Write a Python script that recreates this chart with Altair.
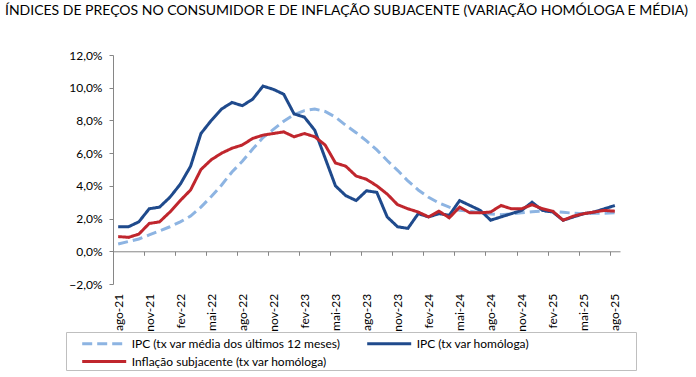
import altair as alt
import pandas as pd

meses = [
    "ago-21", "set-21", "out-21", "nov-21", "dez-21",
    "jan-22", "fev-22", "mar-22", "abr-22", "mai-22", "jun-22", "jul-22",
    "ago-22", "set-22", "out-22", "nov-22", "dez-22",
    "jan-23", "fev-23", "mar-23", "abr-23", "mai-23", "jun-23", "jul-23",
    "ago-23", "set-23", "out-23", "nov-23", "dez-23",
    "jan-24", "fev-24", "mar-24", "abr-24", "mai-24", "jun-24", "jul-24",
    "ago-24", "set-24", "out-24", "nov-24", "dez-24",
    "jan-25", "fev-25", "mar-25", "abr-25", "mai-25", "jun-25", "jul-25",
    "ago-25",
]

ipc_media_12m = [
    0.45, 0.6, 0.75, 1.0, 1.25,
    1.5, 1.8, 2.15, 2.7, 3.35, 4.05, 4.85,
    5.5, 6.25, 6.95, 7.45, 7.95,
    8.35, 8.6, 8.7, 8.55, 8.2, 7.7, 7.25,
    6.75, 6.2, 5.55, 4.95, 4.3,
    3.75, 3.3, 2.95, 2.7, 2.5, 2.45, 2.35,
    2.28, 2.24, 2.28, 2.35, 2.42,
    2.45, 2.43, 2.38, 2.33, 2.3, 2.33, 2.33,
    2.35,
]

ipc_homologa = [
    1.5, 1.5, 1.8, 2.6, 2.7,
    3.3, 4.1, 5.2, 7.2, 8.0, 8.7, 9.1,
    8.9, 9.3, 10.1, 9.9, 9.6,
    8.4, 8.2, 7.4, 5.7, 4.0, 3.4, 3.1,
    3.7, 3.6, 2.1, 1.5, 1.4,
    2.3, 2.1, 2.3, 2.2, 3.1, 2.8, 2.5,
    1.9, 2.1, 2.3, 2.5, 3.0,
    2.5, 2.4, 1.9, 2.1, 2.3, 2.4, 2.6,
    2.8,
]

subjacente = [
    0.9, 0.85, 1.05, 1.7, 1.8,
    2.4, 3.1, 3.75, 5.0, 5.6, 6.0, 6.3,
    6.5, 6.9, 7.1, 7.2, 7.3,
    7.0, 7.2, 7.0, 6.5, 5.4, 5.2, 4.6,
    4.4, 4.0, 3.5, 2.85, 2.6,
    2.4, 2.1, 2.45, 2.05, 2.7, 2.35, 2.35,
    2.4, 2.8, 2.6, 2.6, 2.85,
    2.6, 2.45, 1.9, 2.15, 2.3, 2.4, 2.5,
    2.45,
]

series = [
    "IPC (tx var média dos últimos 12 meses)",
    "IPC (tx var homóloga)",
    "Inflação subjacente (tx var homóloga)",
]
cores = ["#8DB4E2", "#1F4A8C", "#C0262D"]
tracos = [[10, 5], [1, 0], [1, 0]]

titulo = "ÍNDICES DE PREÇOS NO CONSUMIDOR E DE INFLAÇÃO SUBJACENTE (VARIAÇÃO HOMÓLOGA E MÉDIA)"

rows = []
for nome, valores in zip(series, [ipc_media_12m, ipc_homologa, subjacente]):
    for m, v in zip(meses, valores):
        rows.append({"mes": m, "valor": v, "serie": nome})
df = pd.DataFrame(rows)

FONT = "Lato"
W, H = 507, 229
step = W / len(meses)
AXIS_GREY = "#868686"

# widen the legend frame like the original's fixed-size legend box
# (trailing no-break spaces kept from trimming by a final zero-width space)
legend_label_expr = (
    "datum.label == '" + series[1] + "' ? pad(datum.label, 55, '\u00a0') + '\u200b' : datum.label"
)

legend = alt.Legend(
    title=None,
    orient="none",
    legendX=-47,
    legendY=277,
    direction="horizontal",
    columns=2,
    symbolType="M-2.75,0L2.75,0",
    symbolSize=256,
    symbolStrokeWidth=3,
    symbolOffset=26.7,
    labelOffset=18,
    labelFont=FONT,
    labelFontSize=12,
    labelColor="#000000",
    labelLimit=0,
    labelExpr=legend_label_expr,
    strokeColor="#BFBFBF",
    padding=2,
    rowPadding=2,
    columnPadding=12,
)

chart = (
    alt.Chart(df)
    .mark_line(strokeWidth=3)
    .encode(
        x=alt.X(
            "mes:O",
            sort=meses,
            scale=alt.Scale(type="point", padding=0.5),
            axis=alt.Axis(
                title=None,
                values=meses[::3],
                labelAngle=-90,
                tickOffset=-step / 2,
                labelOffset=step / 2,
                offset=-H * 2 / 14,
                tickSize=4,
                labelPadding=38,
                domainColor=AXIS_GREY,
                tickColor=AXIS_GREY,
                labelFont=FONT,
                labelFontSize=12,
                labelColor="#000000",
                labelOverlap=False,
                labelBound=False,
            ),
        ),
        y=alt.Y(
            "valor:Q",
            scale=alt.Scale(domain=[-2, 12], nice=False, zero=False),
            axis=alt.Axis(
                title=None,
                values=list(range(-2, 13, 2)),
                labelExpr="replace(format(datum.value, '.1f'), '.', ',') + '%'",
                grid=False,
                tickSize=4,
                labelPadding=7,
                domainColor=AXIS_GREY,
                tickColor=AXIS_GREY,
                labelFont=FONT,
                labelFontSize=12,
                labelColor="#000000",
            ),
        ),
        color=alt.Color(
            "serie:N",
            sort=series,
            scale=alt.Scale(domain=series, range=cores),
            legend=legend,
        ),
        strokeDash=alt.StrokeDash(
            "serie:N",
            sort=series,
            scale=alt.Scale(domain=series, range=tracos),
            legend=legend,
        ),
    )
    .properties(
        width=W,
        height=H,
        autosize="none",
        padding={"left": 113, "top": 55, "right": 76, "bottom": 93},
        title=alt.TitleParams(
            text=titulo,
            anchor="start",
            frame="group",
            dx=-108,
            offset=31,
            font=FONT,
            fontSize=14,
            fontWeight="normal",
            color="#000000",
        ),
    )
    .configure_view(stroke=None)
)

chart.save("out.html", embed_options={"renderer": "svg", "actions": False})
